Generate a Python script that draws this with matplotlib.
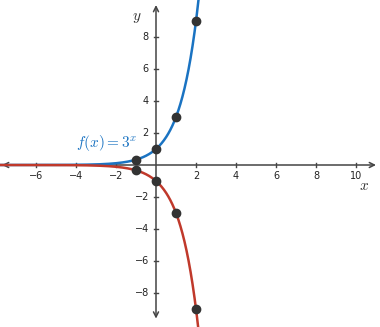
import numpy as np
import matplotlib
matplotlib.use("Agg")
import matplotlib.pyplot as plt

# Data
point_x = [-1, 0, 1, 2]
pos_y = [1/3, 1, 3, 9]
neg_y = [-1/3, -1, -3, -9]
x_ticks = [-6, -4, -2, 2, 4, 6, 8, 10]
y_ticks = [-8, -6, -4, -2, 2, 4, 6, 8]
base = 3

blue = "#1a73c2"
red = "#c0392b"
axis_col = "#444444"

fig = plt.figure(figsize=(3.8, 3.27), dpi=100)
ax = fig.add_axes([0, 0, 1, 1])
ax.set_xlim(-7.8, 11.2)
ax.set_ylim(-10.125, 10.3125)
ax.axis("off")

# axes with arrows
ax.annotate("", xy=(11.0, 0), xytext=(-7.7, 0),
            arrowprops=dict(arrowstyle="<->", color=axis_col, lw=1.1,
                            mutation_scale=9, shrinkA=0, shrinkB=0))
ax.annotate("", xy=(0, 10.0), xytext=(0, -9.6),
            arrowprops=dict(arrowstyle="<->", color=axis_col, lw=1.1,
                            mutation_scale=9, shrinkA=0, shrinkB=0))

# ticks
for t in x_ticks:
    ax.plot([t, t], [-0.1, 0.1], color=axis_col, lw=1)
    lbl = ("\u2212" + str(abs(t))) if t < 0 else str(t)
    ax.text(t, -0.35, lbl, ha="center", va="top", fontsize=7, color="#222222")
for t in y_ticks:
    ax.plot([-0.12, 0.12], [t, t], color=axis_col, lw=1)
    lbl = ("\u2212" + str(abs(t))) if t < 0 else str(t)
    ax.text(-0.35, t, lbl, ha="right", va="center", fontsize=7, color="#222222")

xs = np.linspace(-7.8, 2.3, 600)
ax.plot(xs, base ** xs, color=blue, lw=1.8, zorder=3)
ax.plot(xs, -(base ** xs), color=red, lw=1.8, zorder=3)

ax.scatter(point_x, pos_y, s=36, color="#333333", zorder=5)
ax.scatter(point_x, neg_y, s=36, color="#333333", zorder=5)

ax.text(-0.95, 1.35, r"$f(x) = 3^x$", color=blue, fontsize=11,
        ha="right", va="center", math_fontfamily="cm")
ax.text(-0.95, 9.2, r"$y$", fontsize=11, ha="center", va="center",
        color="#333333", math_fontfamily="cm")
ax.text(10.4, -1.25, r"$x$", fontsize=11, ha="center", va="center",
        color="#333333", math_fontfamily="cm")

fig.savefig("out.png", dpi=100)
